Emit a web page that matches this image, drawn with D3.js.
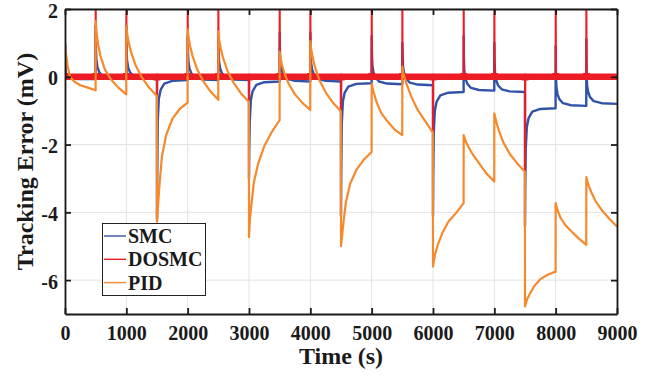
<!DOCTYPE html>
<html>
<head>
<meta charset="utf-8">
<script src="https://cdn.jsdelivr.net/npm/d3@7"></script>
<style>
  body { margin: 0; background: #fff; }
  svg { display: block; font-family: "Liberation Serif", "Times New Roman", serif; font-weight: bold; }
</style>
</head>
<body>
<svg id="chart" width="669" height="376"></svg>
<script>
// every 500 s the reference changes, each row below is one 500 s segment
const segmentStarts = [0, 500, 1000, 1500, 2000, 2500, 3000, 3500, 4000, 4500, 5000, 5500, 6000, 6500, 7000, 7500, 8000, 8500];

// sample times inside a segment (s after the step)
const pidOffsets = [0, 15, 40, 80, 150, 250, 370, 499];
const smcOffsets = [0, 4, 12, 30, 60, 120, 250, 499];

// tracking error (mV)
const pidValues = [
    [1.04, 0.7, 0.35, 0.0, -0.14, -0.25, -0.32, -0.4],
    [1.65, 1.3, 0.95, 0.6, 0.22, -0.08, -0.32, -0.52],
    [1.5, 1.25, 1.0, 0.71, 0.34, -0.01, -0.32, -0.57],
    [-4.28, -3.85, -3.2, -2.35, -1.72, -1.24, -0.95, -0.76],
    [1.4, 1.15, 0.9, 0.61, 0.24, -0.12, -0.43, -0.68],
    [1.33, 1.08, 0.83, 0.54, 0.17, -0.18, -0.49, -0.74],
    [-4.73, -4.21, -3.76, -3.11, -2.56, -2.04, -1.63, -1.28],
    [0.74, 0.53, 0.33, 0.09, -0.22, -0.52, -0.77, -0.98],
    [1.05, 0.8, 0.55, 0.26, -0.11, -0.46, -0.77, -1.02],
    [-5.0, -4.75, -4.3, -3.7, -3.15, -2.75, -2.45, -2.22],
    [-0.2, -0.35, -0.5, -0.75, -1.05, -1.3, -1.55, -1.72],
    [0.3, 0.12, -0.05, -0.27, -0.6, -0.98, -1.3, -1.65],
    [-5.6, -5.42, -5.2, -4.95, -4.62, -4.28, -4.03, -3.73],
    [-1.72, -1.8, -1.93, -2.07, -2.3, -2.55, -2.85, -3.09],
    [-1.08, -1.2, -1.38, -1.62, -1.95, -2.27, -2.55, -2.8],
    [-6.78, -6.68, -6.54, -6.4, -6.18, -5.97, -5.84, -5.75],
    [-3.73, -3.84, -3.98, -4.16, -4.36, -4.55, -4.76, -4.96],
    [-2.96, -3.08, -3.22, -3.4, -3.67, -3.93, -4.18, -4.42]
];

const smcValues = [
    [1.0, 0.4, 0.1, 0.0, -0.04, -0.06, -0.07, -0.07],
    [1.5, 0.83, 0.48, 0.28, 0.13, 0.01, -0.05, -0.07],
    [1.5, 0.83, 0.48, 0.28, 0.13, 0.01, -0.05, -0.07],
    [-4.2, -2.97, -1.3, -0.65, -0.38, -0.2, -0.12, -0.1],
    [1.2, 0.8, 0.45, 0.25, 0.1, -0.02, -0.08, -0.1],
    [1.2, 0.8, 0.45, 0.25, 0.1, -0.02, -0.08, -0.1],
    [-3.0, -2.14, -1.34, -0.69, -0.42, -0.24, -0.16, -0.14],
    [1.3, 0.76, 0.41, 0.21, 0.06, -0.06, -0.12, -0.14],
    [1.3, 0.76, 0.41, 0.21, 0.06, -0.06, -0.12, -0.14],
    [-4.1, -2.93, -1.39, -0.74, -0.47, -0.29, -0.21, -0.19],
    [1.2, 0.68, 0.33, 0.13, -0.02, -0.14, -0.2, -0.22],
    [1.0, 0.65, 0.3, 0.1, -0.05, -0.17, -0.23, -0.25],
    [-4.1, -3.01, -1.65, -1.0, -0.73, -0.55, -0.47, -0.45],
    [1.2, 0.49, 0.14, -0.06, -0.21, -0.33, -0.39, -0.41],
    [1.0, 0.45, 0.1, -0.1, -0.25, -0.37, -0.43, -0.45],
    [-4.4, -3.36, -2.13, -1.48, -1.21, -1.03, -0.95, -0.93],
    [0.9, 0.04, -0.31, -0.51, -0.66, -0.78, -0.84, -0.86],
    [1.1, 0.1, -0.25, -0.45, -0.6, -0.72, -0.78, -0.8]
];

// DOSMC sits on zero, only the spike at each step
const dosmcPeaks = [1.0, 2.5, 2.5, -0.7, 2.5, 2.5, -0.8, 2.5, 2.5, -1.1, 2.5, 2.5, -1.75, 2.5, 2.5, -2.9, 2.5, 2.5];

const xTicks = [0, 1000, 2000, 3000, 4000, 5000, 6000, 7000, 8000, 9000];
const yTicks = [-6, -4, -2, 0, 2];
const seriesNames = ["SMC", "DOSMC", "PID"];
const seriesColors = ["#3152a6", "#ec1c24", "#f6892c"];

const plot = {left: 65, right: 617, top: 9, bottom: 314};

const x = d3.scaleLinear().domain([0, 9000]).range([plot.left, plot.right]);
const y = d3.scaleLinear().domain([-7, 2]).range([plot.bottom, plot.top]);

const svg = d3.select("#chart");

function segmentPoints(offsets, rows) {
    const pts = [];
    segmentStarts.forEach((t0, i) => {
        offsets.forEach((o, j) => pts.push([t0 + o, rows[i][j]]));
    });
    return pts;
}

function dosmcPoints() {
    const pts = [];
    segmentStarts.forEach((t0, i) => {
        if (t0 > 0) pts.push([t0, 0]);
        pts.push([t0, dosmcPeaks[i]]);
        pts.push([t0 + 5, 0]);
    });
    pts.push([9000, 0]);
    return pts;
}

const defs = svg.append("defs");
defs.append("clipPath").attr("id", "plot-clip")
    .append("rect")
    .attr("x", plot.left).attr("y", plot.top)
    .attr("width", plot.right - plot.left).attr("height", plot.bottom - plot.top);
// the DOSMC chatter makes a thick band around zero
defs.append("clipPath").attr("id", "band-clip")
    .append("rect")
    .attr("x", plot.left).attr("y", y(0.11))
    .attr("width", plot.right - plot.left).attr("height", y(-0.11) - y(0.11));

// grid
const grid = svg.append("g").attr("stroke", "#e2e2e2").attr("stroke-width", 1);
grid.selectAll(".gx").data(xTicks).enter().append("line")
    .attr("x1", d => x(d)).attr("x2", d => x(d))
    .attr("y1", plot.top).attr("y2", plot.bottom);
grid.selectAll(".gy").data(yTicks).enter().append("line")
    .attr("x1", plot.left).attr("x2", plot.right)
    .attr("y1", d => y(d)).attr("y2", d => y(d));

// lines
const line = d3.line().x(d => x(d[0])).y(d => y(d[1]));
const lines = svg.append("g").attr("clip-path", "url(#plot-clip)")
    .attr("fill", "none").attr("stroke-linejoin", "round");

lines.append("path")
    .attr("d", line(segmentPoints(smcOffsets, smcValues)))
    .attr("stroke", seriesColors[0]).attr("stroke-width", 2.4);

const dosmc = dosmcPoints();
lines.append("path")
    .attr("d", line(dosmc))
    .attr("stroke", seriesColors[1]).attr("stroke-width", 2);
lines.append("g").attr("clip-path", "url(#band-clip)")
    .append("path")
    .attr("d", line(dosmc))
    .attr("stroke", seriesColors[1]).attr("stroke-width", 6.5);

lines.append("path")
    .attr("d", line(segmentPoints(pidOffsets, pidValues)))
    .attr("stroke", seriesColors[2]).attr("stroke-width", 2.2);

// axes, ticks inward on all four sides
function styleAxis(g) {
    g.select(".domain").attr("stroke", "#1a1a1a").attr("stroke-width", 1.8);
    g.selectAll(".tick line").attr("stroke", "#1a1a1a").attr("stroke-width", 1.8);
    g.selectAll("text").attr("fill", "#1a1a1a").attr("font-size", 20)
        .attr("font-family", "'Liberation Serif', 'Times New Roman', serif").attr("font-weight", "bold");
}

svg.append("g")
    .attr("transform", `translate(0,${plot.bottom})`)
    .call(d3.axisBottom(x).tickValues(xTicks).tickSizeInner(-6).tickSizeOuter(0).tickFormat(d => String(d)))
    .call(styleAxis)
    .call(g => g.selectAll("text").attr("y", 26).attr("dy", null));

svg.append("g")
    .attr("transform", `translate(0,${plot.top})`)
    .call(d3.axisTop(x).tickValues(xTicks).tickSizeInner(-6).tickSizeOuter(0).tickFormat(""))
    .call(styleAxis);

svg.append("g")
    .attr("transform", `translate(${plot.left},0)`)
    .call(d3.axisLeft(y).tickValues(yTicks).tickSizeInner(-6).tickSizeOuter(0).tickPadding(7).tickFormat(d => String(d)))
    .call(styleAxis)
    .call(g => g.selectAll("text").attr("dy", "0.4em"));

svg.append("g")
    .attr("transform", `translate(${plot.right},0)`)
    .call(d3.axisRight(y).tickValues(yTicks).tickSizeInner(-6).tickSizeOuter(0).tickFormat(""))
    .call(styleAxis);

// axis titles
svg.append("text")
    .attr("x", (plot.left + plot.right) / 2).attr("y", 364)
    .attr("text-anchor", "middle").attr("font-size", 24).attr("fill", "#1a1a1a")
    .text("Time (s)");

svg.append("text")
    .attr("transform", `translate(33,${(plot.top + plot.bottom) / 2}) rotate(-90)`)
    .attr("text-anchor", "middle").attr("font-size", 24).attr("fill", "#1a1a1a")
    .text("Tracking Error (mV)");

// legend
const legend = svg.append("g");
legend.append("rect")
    .attr("x", 102.5).attr("y", 223.5).attr("width", 103).attr("height", 72)
    .attr("fill", "#fff").attr("stroke", "#222").attr("stroke-width", 1);
const rows = legend.selectAll(".row").data(seriesNames).enter().append("g")
    .attr("transform", (d, i) => `translate(0,${236 + i * 23.3})`);
rows.append("line")
    .attr("x1", 104).attr("x2", 126).attr("y1", 0).attr("y2", 0)
    .attr("stroke", (d, i) => seriesColors[i]).attr("stroke-width", 1.4);
rows.append("text")
    .attr("x", 128).attr("dy", "0.35em")
    .attr("font-size", 20).attr("fill", "#1a1a1a")
    .text(d => d);
</script>
</body>
</html>
